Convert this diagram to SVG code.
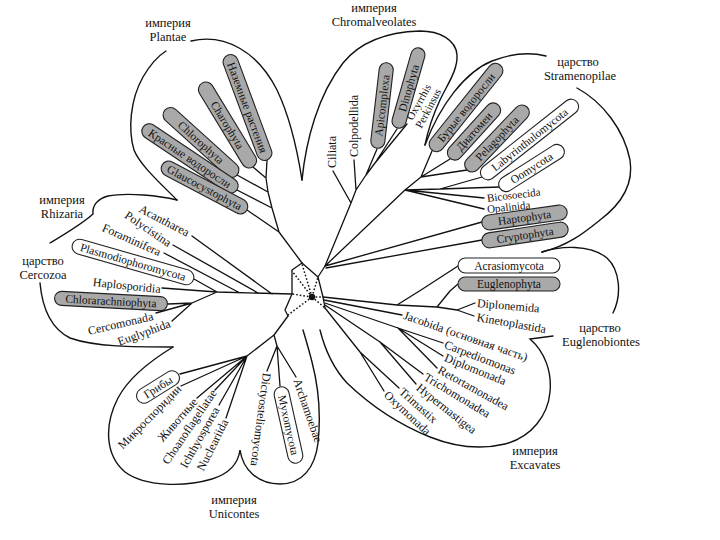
<svg xmlns="http://www.w3.org/2000/svg" width="720" height="540" viewBox="0 0 720 540">
<style>
.ln{fill:none;stroke:#111;stroke-width:1.3;stroke-linejoin:round;stroke-linecap:round}
.dt{fill:none;stroke:#111;stroke-width:1.5;stroke-dasharray:1.6 2}
.ol{fill:none;stroke:#111;stroke-width:1.4;stroke-linecap:round}
.cg{fill:#a9a9a9;stroke:#222;stroke-width:1.1}
.cw{fill:#fff;stroke:#222;stroke-width:1.1}
text{font-family:"Liberation Serif","Times New Roman",serif;fill:#111}
.lb{font-size:12px;dominant-baseline:central}
.sm{font-size:11px}
.ct{font-size:11.5px;text-anchor:middle;dominant-baseline:central}
.tt{font-size:12.5px;text-anchor:middle}
</style>
<rect width="720" height="540" fill="#fff"/>

<g id="outlines">
<path class="ol" d="M177,200 C160,183 140,165 134,150 C128,130 130,100 143,77 C150,65 158,56 166,51"/>
<path class="ol" d="M191,41 C225,33 258,52 277,90 C289,115 297,148 302,180"/>
<path class="ol" d="M302,180 C306,140 318,95 343,63 C360,42 385,32 420,31 C440,31 456,40 457,55 C458,70 447,85 440,100 C433,115 428,130 425,145"/>
<path class="ol" d="M425,145 C440,105 465,72 492,61 C510,54 530,52 546,56"/>
<path class="ol" d="M577,88 C603,102 624,130 630,160 C634,185 620,205 600,220 C585,232 568,246 542,252"/>
<path class="ol" d="M542,252 C560,246 590,244 607,258 C620,270 622,295 613,313"/>
<path class="ol" d="M553,336 L530,339 C545,352 552,372 550,392 C548,415 532,437 505,444 C480,450 455,447 430,437 C400,425 370,405 347,383 C335,370 325,350 320,330"/>
<path class="ol" d="M173,347 C155,358 130,375 118,398 C104,425 105,455 125,472 C145,487 185,487 212,479 C228,474 238,465 240,450 C243,470 258,484 280,484 C302,484 315,468 318,443 C321,415 318,385 312,362 C309,350 306,340 303,330"/>
<path class="ol" d="M177,200 C160,196 128,192 108,196 C97,199 92,206 93,214 C82,224 65,234 50,243"/>
<path class="ol" d="M40,283 C42,305 50,328 70,338 C95,347 135,347 173,347"/>
</g>

<g id="titles">
<text class="tt" x="168" y="27">империя</text><text class="tt" x="168" y="41">Plantae</text>
<text class="tt" x="374" y="12">империя</text><text class="tt" x="374" y="26">Chromalveolates</text>
<text class="tt" x="578" y="66">царство</text><text class="tt" x="580" y="80">Stramenopilae</text>
<text class="tt" x="62" y="204">империя</text><text class="tt" x="62" y="218">Rhizaria</text>
<text class="tt" x="43" y="265">царство</text><text class="tt" x="43" y="279">Cercozoa</text>
<text class="tt" x="600" y="332">царство</text><text class="tt" x="601" y="346">Euglenobiontes</text>
<text class="tt" x="535" y="455">империя</text><text class="tt" x="535" y="469">Excavates</text>
<text class="tt" x="234" y="504">империя</text><text class="tt" x="234" y="518">Unicontes</text>
</g>

<g id="connectors">
<path class="ln" d="M288,316 L285,310 L292,294 L292,270 L302,263 L318,277 L323,297 L325,308"/>
<path class="dt" d="M312,297 L292,271 M312,297 L292,294 M312,297 L288,315 M312,297 L318,277 M312,297 L323,297 M312,297 L325,308 M312,297 L302,264"/>
<path class="ln" d="M302,263 L279,232 L272,208 L268,192 L266,178 M247,210 L279,232 M237,190 L272,208 M237,175 L268,192 M253,167 L266,178 M267,160 L266,178"/>
<path class="ln" d="M318,277 L325,266 L351,203 M333,171 L351,203 M354,160 L356,190 M351,203 L356,190 L366,175 M366,175 L377,149 M366,175 L375,163 L397,129 M375,163 L407,124"/>
<path class="ln" d="M325,266 L405,190 M405,190 L421,177 L432,151 M421,177 L450,159 M421,177 L467,170 M405,190 L440,189 L482,177 M440,189 L500,187 M405,190 L484,198 M405,190 L484,209 M325,266 L482,222 M326,268 L482,240"/>
<path class="ln" d="M292,294 L217,292 M162,288 L217,292 M194,279 L217,292 M217,292 L192,303 M192,303 L168,304 M192,303 L156,313 M192,303 L172,321 M192,236 L272,294 M173,245 L258,293 M164,253 L240,293"/>
<path class="ln" d="M323,297 L397,305 M397,305 L421,290 L458,266 M397,305 L437,307 M437,307 L450,291 L458,284 M437,307 L457,310 M457,310 L475,303 M457,310 L474,316 M324,300 L402,315 M325,303 L398,328 M398,328 L443,343 M398,328 L443,356 M398,328 L437,368 M325,305 L380,342 M380,342 L423,374 M380,342 L416,384 M325,308 L360,352 M360,352 L399,388 M360,352 L384,391"/>
<path class="ln" d="M288,316 L274,335 M274,335 L247,356 M247,356 L180,374 M247,356 L181,386 M247,356 L197,398 M247,356 L215,390 M247,356 L219,405 M247,356 L226,418 M274,335 L277,346 M277,346 L267,371 M277,346 L280,386 M277,346 L296,377"/>
<circle cx="312" cy="297" r="3.2" fill="#111"/>
</g>

<g id="land-plants" transform="translate(247.5,107.5) rotate(69.6)"><rect class="cg" x="-56" y="-7.5" width="112" height="15" rx="7.5"/><text class="ct">Наземные растения</text></g>
<g id="charophyta" transform="translate(227.5,125) rotate(58.7)"><rect class="cg" x="-49" y="-7.5" width="98" height="15" rx="7.5"/><text class="ct">Charophyta</text></g>
<g id="chlorophyta" transform="translate(201,142.5) rotate(42.1)"><rect class="cg" x="-48.5" y="-7.5" width="97" height="15" rx="7.5"/><text class="ct">Chlorophyta</text></g>
<g id="red-algae" transform="translate(190,158.5) rotate(33.8)"><rect class="cg" x="-56.5" y="-7.5" width="113" height="15" rx="7.5"/><text class="ct">Красные водоросли</text></g>
<g id="glaucocystophyta" transform="translate(204.5,187.5) rotate(27.9)"><rect class="cg" x="-48" y="-7.5" width="96" height="15" rx="7.5"/><text class="ct">Glaucocystophyta</text></g>

<g id="ciliata"><text class="lb" transform="translate(332,168) rotate(-90)">Ciliata</text></g>
<g id="colpodellida"><text class="lb" transform="translate(354,157) rotate(-90)">Colpodellida</text></g>
<g id="apicomplexa" transform="translate(382,105.5) rotate(-83.3)"><rect class="cg" x="-43" y="-7" width="86" height="14" rx="7"/><text class="ct">Apicomplexa</text></g>
<g id="dinophyta" transform="translate(408.5,88) rotate(-74)"><rect class="cg" x="-41.5" y="-7" width="83" height="14" rx="7"/><text class="ct">Dinophyta</text></g>
<g id="oxyrrhis-perkinsus"><text class="lb sm" transform="translate(409,119) rotate(-61)">Oxyrrhis</text><text class="lb sm" transform="translate(418,127) rotate(-62)">Perkinsus</text></g>

<g id="brown-algae" transform="translate(466,107.5) rotate(-51.3)"><rect class="cg" x="-54.5" y="-7.5" width="109" height="15" rx="7.5"/><text class="ct">Бурые водоросли</text></g>
<g id="diatoms" transform="translate(474,131.5) rotate(-47.8)"><rect class="cg" x="-36" y="-7.5" width="72" height="15" rx="7.5"/><text class="ct">Диатомеи</text></g>
<g id="pelagophyta" transform="translate(497,138.5) rotate(-46.4)"><rect class="cg" x="-43.5" y="-7.5" width="87" height="15" rx="7.5"/><text class="ct">Pelagophyta</text></g>
<g id="labyrinthulomycota" transform="translate(529.5,139.5) rotate(-38.3)"><rect class="cw" x="-60.5" y="-7.5" width="121" height="15" rx="7.5"/><text class="ct">Labyrinthulomycota</text></g>
<g id="oomycota" transform="translate(531.5,168) rotate(-32.4)"><rect class="cw" x="-37.5" y="-7.5" width="75" height="15" rx="7.5"/><text class="ct">Oomycota</text></g>
<g id="bicosoecida"><text class="lb sm" transform="translate(487,198) rotate(-7)">Bicosoecida</text></g>
<g id="opalinida"><text class="lb sm" transform="translate(487,209) rotate(-6)">Opalinida</text></g>
<g id="haptophyta" transform="translate(524.5,217.5) rotate(-8)"><rect class="cg" x="-43" y="-7.5" width="86" height="15" rx="7.5"/><text class="ct">Haptophyta</text></g>
<g id="cryptophyta" transform="translate(525,235) rotate(-8.5)"><rect class="cg" x="-43.5" y="-7.5" width="87" height="15" rx="7.5"/><text class="ct">Cryptophyta</text></g>

<g id="acantharea"><text class="lb" transform="translate(140,208) rotate(27.5)">Acantharea</text></g>
<g id="polycistina"><text class="lb" transform="translate(126,214) rotate(34)">Polycistina</text></g>
<g id="foraminifera"><text class="lb" transform="translate(103,227) rotate(24)">Foraminifera</text></g>
<g id="plasmodiophoromycota" transform="translate(133,262) rotate(16)"><rect class="cw" x="-63" y="-7.5" width="126" height="15" rx="7.5"/><text class="ct">Plasmodiophoromycota</text></g>
<g id="haplosporidia"><text class="lb" transform="translate(93,282) rotate(6)">Haplosporidia</text></g>
<g id="chlorarachniophyta" transform="translate(111,301) rotate(3)"><rect class="cg" x="-56.5" y="-7" width="113" height="14" rx="7"/><text class="ct">Chlorarachniophyta</text></g>
<g id="cercomonada"><text class="lb" transform="translate(88,331) rotate(-13)">Cercomonada</text></g>
<g id="euglyphida"><text class="lb" transform="translate(118,342) rotate(-20)">Euglyphida</text></g>

<g id="acrasiomycota" transform="translate(509,265.5)"><rect class="cw" x="-51" y="-7.5" width="102" height="15" rx="7.5"/><text class="ct">Acrasiomycota</text></g>
<g id="euglenophyta" transform="translate(509,284)"><rect class="cg" x="-51" y="-7" width="102" height="14" rx="7"/><text class="ct">Euglenophyta</text></g>
<g id="diplonemida"><text class="lb" transform="translate(477,303) rotate(5)">Diplonemida</text></g>
<g id="kinetoplastida"><text class="lb" transform="translate(477,317) rotate(10)">Kinetoplastida</text></g>
<g id="jacobida"><text class="lb" transform="translate(404,315) rotate(19)">Jacobida (основная часть)</text></g>
<g id="carpediomonas"><text class="lb" transform="translate(445,344) rotate(21)">Carpediomonas</text></g>
<g id="diplomonada"><text class="lb" transform="translate(445,357) rotate(22)">Diplomonada</text></g>
<g id="retortamonadea"><text class="lb" transform="translate(439,369) rotate(29)">Retortamonadea</text></g>
<g id="trichomonadea"><text class="lb" transform="translate(425,376) rotate(31)">Trichomonadea</text></g>
<g id="hypermastigea"><text class="lb" transform="translate(418,386) rotate(38.5)">Hypermastigea</text></g>
<g id="trimastix"><text class="lb" transform="translate(401,390) rotate(41.5)">Trimastix</text></g>
<g id="oxymonada"><text class="lb" transform="translate(386,393) rotate(43)">Oxymonada</text></g>

<g id="fungi" transform="translate(158,387) rotate(-32)"><rect class="cw" x="-24" y="-7.5" width="48" height="15" rx="7.5"/><text class="ct">Грибы</text></g>
<g id="microsporidia"><text class="lb" transform="translate(120,447) rotate(-45.5)">Микроспоридии</text></g>
<g id="animals"><text class="lb" transform="translate(160,440) rotate(-49)">Животные</text></g>
<g id="choanoflagellatae"><text class="lb" transform="translate(165,463) rotate(-56)">Choanoflagellatae</text></g>
<g id="ichthyosporea"><text class="lb" transform="translate(183,467) rotate(-60.5)">Ichthyosporea</text></g>
<g id="nucleariida"><text class="lb" transform="translate(200,470) rotate(-63.4)">Nucleariida</text></g>
<g id="dictyosteliomycota"><text class="lb" transform="translate(267,373) rotate(97.6)">Dictyosteliomycota</text></g>
<g id="myxomycota" transform="translate(288.5,425) rotate(77.4)"><rect class="cw" x="-39" y="-7.5" width="78" height="15" rx="7.5"/><text class="ct">Myxomycota</text></g>
<g id="archamoebae"><text class="lb" transform="translate(297,379) rotate(71)">Archamoebae</text></g>
</svg>
